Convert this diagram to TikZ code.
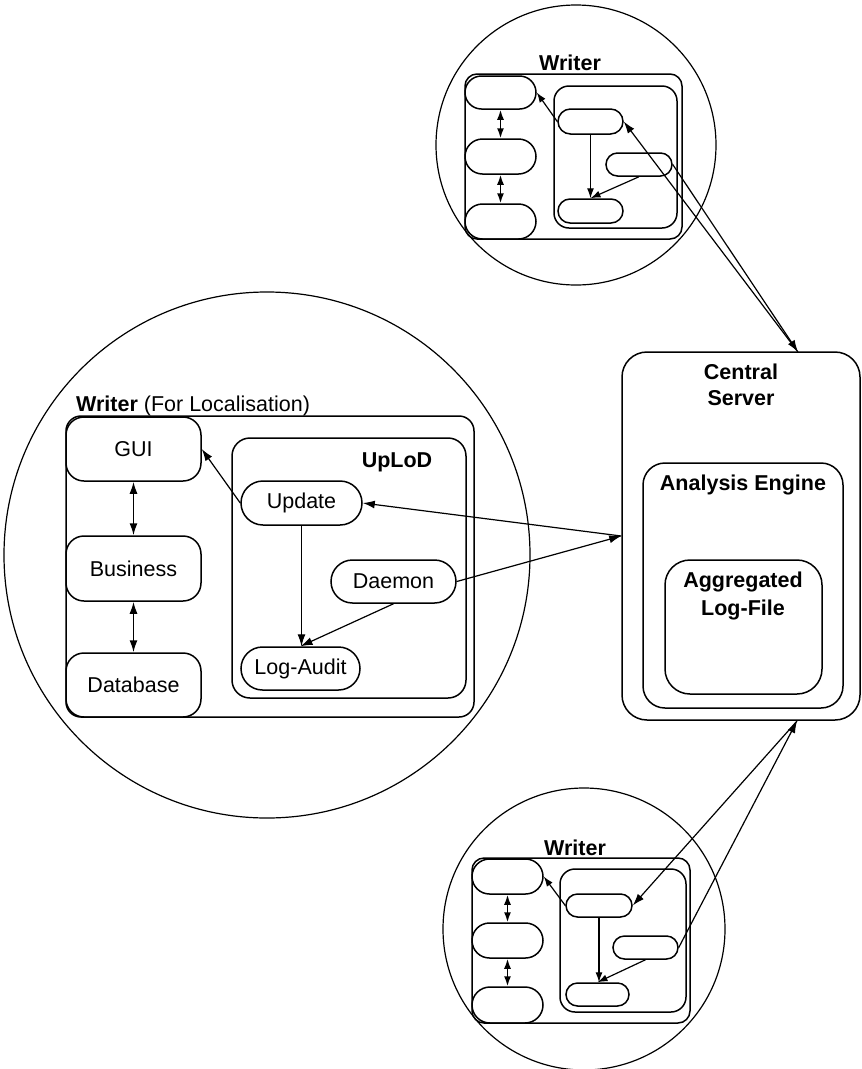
\documentclass[tikz,border=0pt]{standalone}
\usepackage{fontspec}
\setmainfont{Liberation Sans}
\usetikzlibrary{arrows.meta,shapes.misc}
\begin{document}
\begin{tikzpicture}[x=1pt,y=-1pt,
  every node/.style={font=\fontsize{21.5}{26}\selectfont},
  ln/.style={line width=1.5pt},
  cln/.style={line width=1.2pt},
  box/.style={draw,ln,rectangle,rounded corners=#1,inner sep=0pt},
  box/.default=18pt,
  pill/.style={draw,ln,rounded rectangle,inner sep=0pt},
  ring/.style={draw,cln,circle,inner sep=0pt},
  tip/.style={cln,-{Latex[length=12pt,width=8pt]}},
  dbl/.style={ln,{Latex[length=12pt,width=8pt]}-{Latex[length=12pt,width=8pt]}},
  stip/.style={cln,-{Latex[length=10pt,width=7pt]}},
  sdbl/.style={ln,{Latex[length=10pt,width=7pt]}-{Latex[length=10pt,width=7pt]}},
  lbl/.style={inner sep=0pt,anchor=base}
]
\useasboundingbox (0,0) rectangle (862,1069);

% ---------- big circle: Writer (For Localisation)
\node[ring,minimum size=526pt] (bigc) at (267,555) {};
\node[box=15pt,minimum width=408pt,minimum height=301pt] (wbox) at (270,566.5) {};
\node[lbl,anchor=base west] (wlbl) at (76,411) {\textbf{Writer} (For Localisation)};
\node[box=18pt,minimum width=135pt,minimum height=64pt] (gui) at (133.5,449) {GUI};
\node[box=18pt,minimum width=135pt,minimum height=65pt] (bus) at (133.5,568.5) {Business};
\node[box=18pt,minimum width=135pt,minimum height=64pt] (db) at (133.5,685) {Database};
\node[box=18pt,minimum width=234pt,minimum height=260pt] (uplod) at (349,568) {};
\node[lbl] (uplbl) at (397,467) {\textbf{UpLoD}};
\node[pill,minimum width=121pt,minimum height=44pt] (upd) at (301.5,503) {Update};
\node[pill,minimum width=125pt,minimum height=43pt] (dae) at (393.5,581.5) {Daemon};
\node[pill,minimum width=119pt,minimum height=43pt] (log) at (300.5,668.5) {Log-Audit};

\draw[tip] (upd.west) -- (gui.east);
\draw[dbl] (gui.south) -- (bus.north);
\draw[dbl] (bus.south) -- (db.north);
\draw[tip] (upd.south) -- (upd.south |- log.north);
\draw[tip] (dae.south) -- (log.north);

% ---------- Central server
\node[box=25pt,minimum width=238pt,minimum height=368pt] (cs) at (741,536) {};
\node[lbl] (cslbl1) at (741,379) {\textbf{Central}};
\node[lbl] (cslbl2) at (741,405) {\textbf{Server}};
\node[box=22pt,minimum width=200pt,minimum height=245pt] (ae) at (743,585.5) {};
\node[lbl] (aelbl) at (743,490) {\textbf{Analysis Engine}};
\node[box=25pt,minimum width=157pt,minimum height=134pt] (agg) at (743.5,627) {};
\node[lbl] (agglbl1) at (743,587) {\textbf{Aggregated}};
\node[lbl] (agglbl2) at (743,615) {\textbf{Log-File}};

\coordinate (cl) at (cs.west);
\draw[tip] (cl) -- (upd.east);
\draw[tip] (dae.east) -- (cl);

% ---------- top circle
\node[ring,minimum size=280pt] (topc) at (576,145) {};
\node[box=12pt,minimum width=217pt,minimum height=165pt] (tw) at (573.5,156.5) {};
\node[lbl] (twlbl) at (570,70) {\textbf{Writer}};
\node[pill,minimum width=71pt,minimum height=33pt] (tp1) at (500.5,92.5) {};
\node[pill,minimum width=71pt,minimum height=35pt] (tp2) at (500.5,156.5) {};
\node[pill,minimum width=71pt,minimum height=35pt] (tp3) at (500.5,221.5) {};
\node[box=15pt,minimum width=123pt,minimum height=142pt] (tin) at (615.5,157) {};
\node[pill,minimum width=65pt,minimum height=25pt] (ta) at (590.5,121.5) {};
\node[pill,minimum width=66pt,minimum height=23pt] (tb) at (639,164.5) {};
\node[pill,minimum width=65pt,minimum height=24pt] (tc) at (590.5,211) {};
\draw[sdbl] (tp1.south) -- (tp2.north);
\draw[sdbl] (tp2.south) -- (tp3.north);
\draw[stip] (ta.west) -- (tp1.east);
\draw[stip] (ta.south) -- (tc.north);
\draw[stip] (tb.south) -- (tc.north);

\coordinate (ct) at (798,352);
\draw[tip] (ct) -- (ta.east);
\draw[tip] (tb.east) -- (ct);

% ---------- bottom circle
\node[ring,minimum size=282pt] (botc) at (584,929) {};
\node[box=12pt,minimum width=218pt,minimum height=165pt] (bw) at (581,940.5) {};
\node[lbl] (bwlbl) at (575,855) {\textbf{Writer}};
\node[pill,minimum width=71pt,minimum height=35pt] (bp1) at (507.5,876.5) {};
\node[pill,minimum width=71pt,minimum height=35pt] (bp2) at (507.5,940.5) {};
\node[pill,minimum width=71pt,minimum height=36pt] (bp3) at (507.5,1005) {};
\node[box=15pt,minimum width=126pt,minimum height=143pt] (bin) at (623,940.5) {};
\node[pill,minimum width=66pt,minimum height=23pt] (ba) at (599,905.5) {};
\node[pill,minimum width=65pt,minimum height=23pt] (bb) at (645.5,947.5) {};
\node[pill,minimum width=63pt,minimum height=23pt] (bc) at (597.5,994.5) {};
\draw[sdbl] (bp1.south) -- (bp2.north);
\draw[sdbl] (bp2.south) -- (bp3.north);
\draw[stip] (ba.west) -- (bp1.east);
\draw[stip] (ba.south) -- (ba.south |- bc.north);
\draw[stip] (bb.south) -- (bc.north);

\coordinate (cb) at (797,721);
\draw[tip] (cb) -- (ba.east);
\draw[tip] (bb.east) -- (cb);
\end{tikzpicture}
\end{document}
